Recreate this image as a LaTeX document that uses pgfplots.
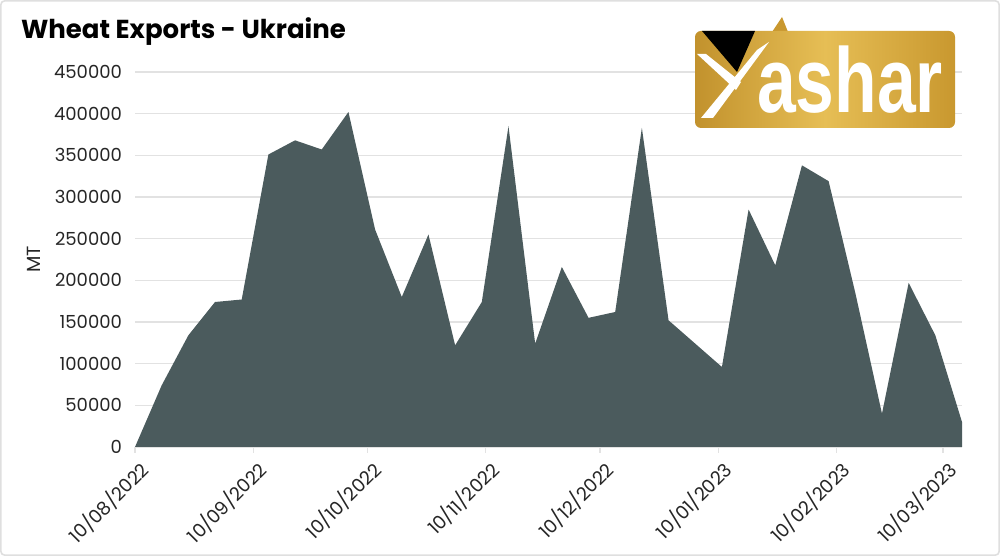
\documentclass[border=0pt]{standalone}
\usepackage{pgfplots}
\pgfplotsset{compat=1.18}
\usepackage{fontspec}
\setmainfont{Poppins}
\newfontfamily\logofont{Liberation Sans}
\definecolor{areacol}{HTML}{4B5B5D}
\definecolor{gridcol}{HTML}{E2E2E2}
\definecolor{gold}{HTML}{C9982F}
\definecolor{goldlight}{HTML}{E6BE55}
\definecolor{golddark}{HTML}{C2922D}

\begin{document}
\begin{tikzpicture}
\useasboundingbox (0,0) rectangle (500pt,278pt);
\draw[gray!25, line width=0.8pt, rounded corners=2pt] (0.4pt,0.4pt) rectangle (499.6pt,277.6pt);

\begin{axis}[
  at={(67.5pt,54.5pt)}, anchor=origin,
  scale only axis,
  width=413.5pt, height=187.5pt,
  xmin=0, xmax=217, ymin=0, ymax=450000,
  axis x line*=bottom,
  axis y line*=left,
  x axis line style={draw=gridcol, line width=0.8pt},
  y axis line style={draw=none},
  ytick={0,50000,...,450000},
  ymajorgrids,
  grid style={gridcol, line width=0.6pt},
  ytick style={draw=none},
  yticklabel style={font=\fontsize{9}{10}\selectfont, text=black!85},
  scaled y ticks=false,
  /pgf/number format/.cd, fixed, 1000 sep={}, assume math mode=true,
  /pgfplots/.cd,
  xtick={0,31,61,92,122,153,184,212},
  xticklabels={10/08/2022,10/09/2022,10/10/2022,10/11/2022,10/12/2022,10/01/2023,10/02/2023,10/03/2023},
  xticklabel style={font=\fontsize{9.3}{10}\selectfont, text=black!85, rotate=45, anchor=north east, inner sep=1pt, yshift=-2pt},
  xtick style={draw=gridcol, line width=0.6pt},
  tick align=outside,
  major tick length=3pt,
  ylabel={MT},
  ylabel style={font=\fontsize{9.5}{10}\selectfont, text=black!85},
  clip=false,
]
\addplot[fill=areacol, draw=none] coordinates {
  (0,0) (7,74000) (14,134000) (21,174000) (28,177000) (35,351000)
  (42,368000) (49,357000) (56,402000) (63,261000) (70,180000)
  (77,255000) (84,122000) (91,174000) (98,385000) (105,124000)
  (112,216000) (119,155000) (126,162000) (133,383000) (140,152000)
  (147,124000) (154,96000) (161,285000) (168,218000) (175,338000)
  (182,319000) (189,185000) (196,40000) (203,197000) (210,134000)
  (217,30000)
} \closedcycle;
\end{axis}

% title
\node[anchor=west, font=\fontsize{13}{15}\selectfont\bfseries] at (7pt,262pt) {Wheat Exports - Ukraine};

% logo
\begin{scope}[x=0.5pt, y=-0.5pt, yshift=278pt]
  \fill[gold] (772,32) -- (782,17) -- (788,32) -- cycle;
  \shade[left color=golddark, right color=gold, middle color=goldlight, rounded corners=3pt]
    (695,31) rectangle (955,128);
  \fill[black] (702,31) -- (755,31) -- (737,72) -- cycle;
  \fill[white] (757,50) -- (769,42) -- (713,118) -- (701,118) -- cycle;
  \fill[white] (697,54) -- (706,54) -- (741,82) -- (736,90) -- cycle;
  \node[anchor=base, text=white, font=\logofont\bfseries\fontsize{40}{40}\selectfont, xscale=0.87, yscale=1.15, inner sep=0pt] at (850,113) {ashar};
\end{scope}
\end{tikzpicture}
\end{document}
